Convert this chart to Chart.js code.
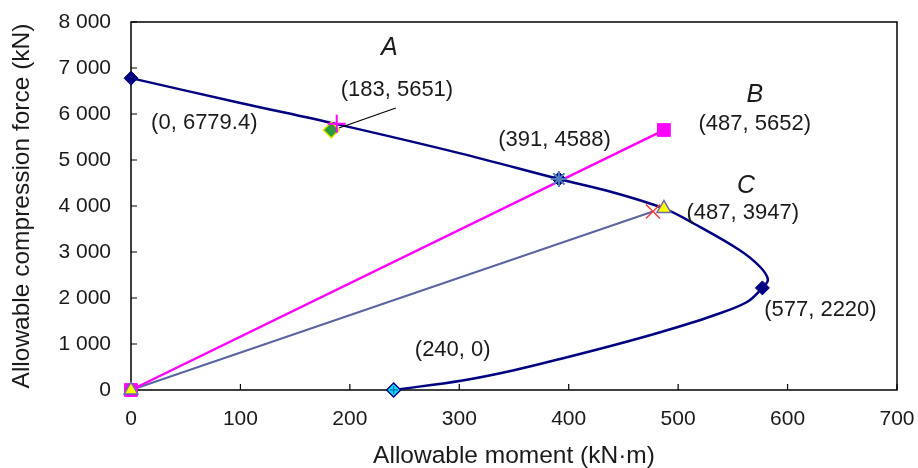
<!DOCTYPE html>
<html>
<head>
<meta charset="utf-8">
<script src="https://cdn.jsdelivr.net/npm/chart.js@4/dist/chart.umd.min.js"></script>
<style>
  html, body { margin: 0; padding: 0; background: #fff; }
  #wrap { width: 918px; height: 468px; }
</style>
</head>
<body>
<div id="wrap"><canvas id="nmChart" width="918" height="468"></canvas></div>
<script>
// N-M interaction curve (allowable moment vs allowable compression force)
const curveMoment = [0, 100, 188, 300, 391, 440, 487, 515, 556, 575, 582, 577, 563, 531, 486, 440, 394, 349, 303, 240];
const curveForce  = [6779.4, 6240, 5780, 5150, 4588, 4300, 3947, 3609, 3043, 2674, 2400, 2220, 1913, 1609, 1272, 967, 685, 424, 207, 0];

// key points on the curve
const keyMoment = [0, 391, 577];
const keyForce  = [6779.4, 4588, 2220];
const pureMoment = [240];
const pureForce  = [0];

// point A
const pointAMoment = [183];
const pointAForce  = [5651];
const crossAMoment = [188];
const crossAForce  = [5790];

// load path B
const pathBMoment = [0, 487];
const pathBForce  = [0, 5652];

// load path C
const pathCMoment = [0, 477];
const pathCForce  = [0, 3880];
const pointCMoment = [0, 487];
const pointCForce  = [0, 3947];

const xTicks = [0, 100, 200, 300, 400, 500, 600, 700];
const yTicks = [0, 1000, 2000, 3000, 4000, 5000, 6000, 7000, 8000];

// text notes placed in data coordinates
const noteText   = ['A', '(183, 5651)', '(0, 6779.4)', '(391, 4588)', 'B', '(487, 5652)', 'C', '(487, 3947)', '(577, 2220)', '(240, 0)'];
const noteMoment = [236, 243, 67, 387, 570, 570, 562, 559, 630, 294];
const noteForce  = [7440, 6522, 5800, 5435, 6413, 5790, 4440, 3848, 1739, 870];
const noteItalic = [true, false, false, false, true, false, true, false, false, false];

const pts = (xs, ys) => xs.map((x, i) => ({ x: x, y: ys[i] }));

const FONT = "'Liberation Sans', Arial, sans-serif";

const frameAndNotes = {
  id: 'frameAndNotes',
  beforeDatasetsDraw(chart) {
    const { ctx, chartArea: a, scales: { x, y } } = chart;
    ctx.save();
    // frame + inward ticks
    ctx.strokeStyle = '#000';
    ctx.lineWidth = 1.5;
    ctx.strokeRect(a.left, a.top, a.right - a.left, a.bottom - a.top);
    ctx.beginPath();
    xTicks.forEach(v => {
      const px = x.getPixelForValue(v);
      ctx.moveTo(px, a.bottom);
      ctx.lineTo(px, a.bottom - 6);
    });
    yTicks.forEach(v => {
      const py = y.getPixelForValue(v);
      ctx.moveTo(a.left, py);
      ctx.lineTo(a.left + 6, py);
    });
    ctx.lineWidth = 1.2;
    ctx.stroke();
    ctx.restore();
  },
  afterDatasetsDraw(chart) {
    const { ctx, scales: { x, y } } = chart;
    ctx.save();
    // leader line for point A
    ctx.strokeStyle = '#000';
    ctx.beginPath();
    ctx.moveTo(x.getPixelForValue(242), y.getPixelForValue(6130));
    ctx.lineTo(x.getPixelForValue(190), y.getPixelForValue(5696));
    ctx.lineWidth = 1.2;
    ctx.stroke();

    // notes
    ctx.fillStyle = '#1a1a1a';
    ctx.textAlign = 'center';
    ctx.textBaseline = 'middle';
    noteText.forEach((t, i) => {
      ctx.font = noteItalic[i] ? 'italic 25px ' + FONT : '22px ' + FONT;
      ctx.fillText(t, x.getPixelForValue(noteMoment[i]), y.getPixelForValue(noteForce[i]));
    });
    ctx.restore();
  }
};

new Chart(document.getElementById('nmChart').getContext('2d'), {
  type: 'scatter',
  data: {
    datasets: [
      {
        data: pts(pointCMoment, pointCForce),
        pointStyle: 'triangle', pointRadius: 8,
        backgroundColor: '#ffff00', borderColor: '#6a6aa8', borderWidth: 1.5
      },
      {
        data: pts(pathCMoment.slice(1), pathCForce.slice(1)),
        pointStyle: 'crossRot', pointRadius: 10,
        borderColor: '#ff3b3b', borderWidth: 1.5
      },
      {
        data: pts([keyMoment[1]], [keyForce[1]]),
        pointStyle: 'star', pointRadius: 8,
        borderColor: '#4f81bd', borderWidth: 2
      },
      {
        data: pts(pureMoment, pureForce),
        pointStyle: 'cross', pointRadius: 4,
        borderColor: '#0070c0', borderWidth: 1.5
      },
      {
        data: pts(pureMoment, pureForce),
        pointStyle: 'rectRot', pointRadius: 7,
        backgroundColor: '#00e5ff', borderColor: '#000080', borderWidth: 1.5
      },
      {
        data: pts(crossAMoment, crossAForce),
        pointStyle: 'cross', pointRadius: 9,
        borderColor: '#ff00ff', borderWidth: 2
      },
      {
        data: pts(pointAMoment, pointAForce),
        pointStyle: 'rectRot', pointRadius: 8,
        backgroundColor: '#2e9a3c', borderColor: '#e8e800', borderWidth: 1.5
      },
      {
        data: pts(keyMoment, keyForce),
        pointStyle: 'rectRot', pointRadius: 7,
        backgroundColor: '#000080', borderColor: '#000080', borderWidth: 1
      },
      {
        data: pts(pathBMoment, pathBForce),
        pointStyle: 'rect', pointRadius: 9,
        backgroundColor: '#ff00ff', borderColor: '#ff00ff', borderWidth: 1
      },
      {
        data: pts(curveMoment, curveForce),
        showLine: true, pointRadius: 0, tension: 0.35,
        borderColor: '#000080', borderWidth: 2.5
      },
      {
        data: pts(pathBMoment, pathBForce),
        showLine: true, pointRadius: 0,
        borderColor: '#ff00ff', borderWidth: 2.5
      },
      {
        data: pts(pathCMoment, pathCForce),
        showLine: true, pointRadius: 0,
        borderColor: '#5a64a0', borderWidth: 2
      }
    ]
  },
  options: {
    responsive: false,
    animation: false,
    events: [],
    clip: false,
    layout: { padding: { top: 22, right: 21, left: 0, bottom: 0 } },
    plugins: { legend: { display: false }, tooltip: { enabled: false } },
    scales: {
      x: {
        type: 'linear', min: 0, max: 700,
        afterFit: s => { s.height = 78; s.paddingLeft = 0; s.paddingRight = 0; },
        afterBuildTicks: s => { s.ticks = xTicks.map(v => ({ value: v })); },
        grid: { display: false, drawTicks: false },
        border: { display: false },
        ticks: { padding: 17, color: '#1a1a1a', font: { family: FONT, size: 21 } },
        title: {
          display: true, text: 'Allowable moment (kN·m)', color: '#1a1a1a',
          font: { family: FONT, size: 24.5, lineHeight: 1 }, padding: { top: 0, bottom: 0 }
        }
      },
      y: {
        type: 'linear', min: 0, max: 8000,
        afterFit: s => { s.width = 131; s.paddingTop = 0; s.paddingBottom = 0; },
        afterBuildTicks: s => { s.ticks = yTicks.map(v => ({ value: v })); },
        grid: { display: false, drawTicks: false },
        border: { display: false },
        ticks: {
          padding: 20, color: '#1a1a1a', font: { family: FONT, size: 21 },
          callback: v => String(v).replace(/\B(?=(\d{3})+(?!\d))/g, ' ')
        },
        title: {
          display: true, text: 'Allowable compression force (kN)', color: '#1a1a1a',
          font: { family: FONT, size: 24.5, lineHeight: 1 }, padding: { top: 10, bottom: 0 }
        }
      }
    }
  },
  plugins: [frameAndNotes]
});
</script>
</body>
</html>
